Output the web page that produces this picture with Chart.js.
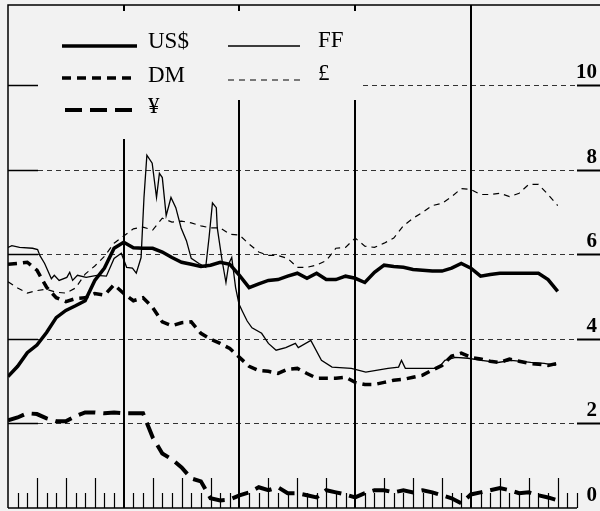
<!DOCTYPE html>
<html lang="en">
<head>
    <meta charset="UTF-8">
    <title>Exchange rates</title>
    <style>
        html, body { margin: 0; padding: 0; background-color: #f2f2f2; }
        canvas { display: block; }
    </style>
</head>
<body>
    <canvas id="rateChart" width="600" height="511"></canvas>
    <script src="https://cdn.jsdelivr.net/npm/chart.js@4.4.0/dist/chart.umd.min.js"></script>
    <script>
        // months from the left edge of the chart, one value per month
        const months = Array.from({ length: 58 }, (_, i) => i);
        const yTicks = [0, 2, 4, 6, 8, 10];
        const yearMonths = [12, 24, 36, 48];

        const usd = [3.11, 3.35, 3.67, 3.85, 4.15, 4.5, 4.67, 4.78, 4.9, 5.38, 5.67, 6.14, 6.28, 6.15, 6.14, 6.14, 6.05, 5.92, 5.81, 5.76,
            5.71, 5.74, 5.81, 5.76, 5.5, 5.21, 5.3, 5.38, 5.4, 5.48, 5.55, 5.43, 5.55, 5.4, 5.4, 5.48, 5.43, 5.33, 5.57, 5.74,
            5.71, 5.69, 5.64, 5.62, 5.6, 5.6, 5.67, 5.78, 5.67, 5.48, 5.52, 5.55, 5.55, 5.55, 5.55, 5.55, 5.4, 5.12];
        const dm = [5.76, 5.78, 5.81, 5.62, 5.22, 4.97, 4.88, 4.95, 4.97, 5.07, 5.03, 5.28, 5.07, 4.9, 4.97, 4.74, 4.4, 4.31, 4.38, 4.4,
            4.13, 3.99, 3.89, 3.77, 3.56, 3.35, 3.25, 3.23, 3.18, 3.28, 3.3, 3.18, 3.07, 3.07, 3.07, 3.09, 2.97, 2.92, 2.92, 2.97,
            3.02, 3.04, 3.09, 3.14, 3.26, 3.37, 3.59, 3.66, 3.56, 3.52, 3.47, 3.44, 3.52, 3.47, 3.42, 3.4, 3.37, 3.42];
        const gbp = [5.35, 5.2, 5.08, 5.14, 5.17, 5.1, 5.08, 5.2, 5.53, 5.72, 5.95, 6.26, 6.43, 6.6, 6.64, 6.57, 6.85, 6.76, 6.78, 6.74,
            6.67, 6.62, 6.62, 6.47, 6.45, 6.24, 6.05, 5.97, 5.97, 5.9, 5.69, 5.69, 5.74, 5.85, 6.14, 6.16, 6.38, 6.19, 6.16, 6.26,
            6.38, 6.67, 6.85, 6.99, 7.15, 7.2, 7.36, 7.55, 7.53, 7.41, 7.41, 7.44, 7.36, 7.44, 7.65, 7.65, 7.41, 7.15];
        const yen = [2.07, 2.14, 2.24, 2.22, 2.12, 2.05, 2.05, 2.17, 2.26, 2.26, 2.24, 2.26, 2.24, 2.24, 2.24, 1.67, 1.29, 1.15, 0.96, 0.7,
            0.63, 0.23, 0.18, 0.2, 0.3, 0.37, 0.49, 0.42, 0.49, 0.35, 0.35, 0.3, 0.25, 0.42, 0.37, 0.32, 0.25, 0.35, 0.42, 0.42,
            0.37, 0.42, 0.37, 0.42, 0.37, 0.3, 0.23, 0.11, 0.32, 0.37, 0.42, 0.47, 0.42, 0.35, 0.37, 0.3, 0.25, 0.18];

        // FF is spiky, so it keeps its own finer month positions
        const ffMonths = [0, 0.4, 1.2, 2.55, 3.07, 3.3, 3.8, 4.5, 4.8, 5.3, 6.1, 6.4, 6.7, 7.2, 8.1, 9.2, 10.2, 11.0, 11.75, 12.3,
            12.9, 13.3, 13.8, 14.1, 14.4, 14.95, 15.4, 15.7, 16.0, 16.4, 16.9, 17.4, 17.95, 18.5, 19.0, 19.8, 20.5, 20.85, 21.2, 21.6,
            21.7, 22.2, 22.6, 22.9, 23.2, 23.6, 23.95, 24.3, 24.8, 25.3, 26.3, 27.0, 27.8, 28.8, 29.8, 30.1, 31.4, 32.5, 33.6, 35.6,
            37.1, 39.4, 40.5, 40.8, 41.2, 42.9, 44.6, 45.3, 46.4, 47.7, 49.1, 50.8, 52.2, 54.2, 55.6, 56.8];
        const ff = [6.16, 6.2, 6.16, 6.14, 6.11, 5.97, 5.78, 5.42, 5.5, 5.38, 5.45, 5.57, 5.38, 5.5, 5.45, 5.5, 5.48, 5.9, 6.02, 5.69,
            5.67, 5.55, 5.92, 7.34, 8.34, 8.15, 7.34, 7.91, 7.81, 6.91, 7.34, 7.1, 6.62, 6.32, 5.9, 5.78, 5.69, 6.4, 7.21, 7.1,
            6.62, 5.85, 5.33, 5.78, 5.92, 5.21, 4.82, 4.65, 4.42, 4.26, 4.13, 3.89, 3.73, 3.79, 3.89, 3.79, 3.96, 3.49, 3.33, 3.3,
            3.21, 3.3, 3.33, 3.49, 3.3, 3.3, 3.3, 3.49, 3.56, 3.54, 3.49, 3.44, 3.49, 3.44, 3.42, 3.37];

        const pts = (xs, ys) => xs.map((m, i) => ({ x: m, y: ys[i] }));

        const series = [
            { label: 'US$', data: pts(months, usd), width: 3.5, dash: [] },
            { label: 'FF', data: pts(ffMonths, ff), width: 1.3, dash: [] },
            { label: 'DM', data: pts(months, dm), width: 3.5, dash: [9, 6] },
            { label: '£', data: pts(months, gbp), width: 1.2, dash: [6, 5] },
            { label: '¥', data: pts(months, yen), width: 4, dash: [17, 8] }
        ];

        // legend slots: [line x1, line x2, line y, text x, text baseline]
        const legendSlots = {
            'US$': [62, 137, 46, 148, 48],
            'FF': [228, 300, 46, 318, 47],
            'DM': [62, 137, 78, 148, 82],
            '£': [228, 300, 80, 318, 80],
            '¥': [65, 137, 110, 148, 113]
        };

        const framePlugin = {
            id: 'frame',
            beforeDraw(chart) {
                const ctx = chart.ctx;
                ctx.save();
                ctx.fillStyle = '#f2f2f2';
                ctx.fillRect(0, 0, chart.width, chart.height);
                ctx.restore();
            },
            beforeDatasetsDraw(chart) {
                const { ctx, chartArea: a, scales: { x, y } } = chart;
                ctx.save();
                ctx.strokeStyle = '#000';

                // frame: left, top and bottom
                ctx.lineWidth = 1.5;
                ctx.beginPath();
                ctx.moveTo(a.left, a.bottom);
                ctx.lineTo(a.left, a.top);
                ctx.lineTo(chart.width, a.top);
                ctx.moveTo(a.left, a.bottom);
                ctx.lineTo(a.right, a.bottom);
                ctx.stroke();

                // horizontal grid and right-hand labels
                ctx.font = 'bold 21px "Liberation Serif"';
                ctx.textAlign = 'right';
                ctx.fillStyle = '#000';
                yTicks.forEach(v => {
                    const py = Math.round(y.getPixelForValue(v)) + 0.5;
                    if (v > 0) {
                        ctx.lineWidth = 1.5;
                        ctx.setLineDash([]);
                        ctx.beginPath();
                        ctx.moveTo(a.left, py);
                        ctx.lineTo(a.left + 30, py);
                        ctx.stroke();
                        ctx.lineWidth = 2;
                        ctx.beginPath();
                        ctx.moveTo(a.right, py);
                        ctx.lineTo(chart.width, py);
                        ctx.stroke();
                        ctx.lineWidth = 1;
                        ctx.strokeStyle = '#333';
                        ctx.setLineDash([5, 4]);
                        ctx.beginPath();
                        ctx.moveTo(v === 10 ? 363 : a.left + 30, py);
                        ctx.lineTo(a.right, py);
                        ctx.stroke();
                        ctx.setLineDash([]);
                        ctx.strokeStyle = '#000';
                    }
                    ctx.fillText(String(v), 597, py - 8);
                });

                // month ticks along the bottom, taller each quarter
                ctx.lineWidth = 1.2;
                ctx.beginPath();
                for (let m = 1; m <= 59; m++) {
                    if (yearMonths.includes(m)) continue;
                    const px = Math.round(x.getPixelForValue(m)) + 0.5;
                    ctx.moveTo(px, a.bottom);
                    ctx.lineTo(px, a.bottom - (m % 3 === 0 ? 30 : 15));
                }
                ctx.stroke();

                // year separators, broken where the legend sits
                const lineTops = { 12: 139, 24: 100, 36: 100, 48: a.top };
                ctx.lineWidth = 2;
                ctx.beginPath();
                yearMonths.forEach(m => {
                    const px = Math.round(x.getPixelForValue(m));
                    ctx.moveTo(px, a.bottom);
                    ctx.lineTo(px, lineTops[m]);
                    ctx.moveTo(px, a.top);
                    ctx.lineTo(px, a.top + 6);
                });
                ctx.stroke();
                ctx.restore();
            },
            afterDraw(chart) {
                const ctx = chart.ctx;
                ctx.save();
                ctx.strokeStyle = '#000';
                ctx.fillStyle = '#000';
                ctx.font = '23px "Liberation Serif"';
                ctx.textAlign = 'left';
                chart.data.datasets.forEach(ds => {
                    const s = legendSlots[ds.label];
                    ctx.lineWidth = ds.borderWidth;
                    ctx.setLineDash(ds.borderDash || []);
                    ctx.beginPath();
                    ctx.moveTo(s[0], s[2]);
                    ctx.lineTo(s[1], s[2]);
                    ctx.stroke();
                    ctx.setLineDash([]);
                    ctx.fillText(ds.label, s[3], s[4]);
                });
                ctx.restore();
            }
        };

        const ctx = document.getElementById('rateChart').getContext('2d');
        const rateChart = new Chart(ctx, {
            type: 'line',
            data: {
                datasets: series.map(s => ({
                    label: s.label,
                    data: s.data,
                    borderColor: '#000',
                    borderWidth: s.width,
                    borderDash: s.dash,
                    pointRadius: 0,
                    tension: 0,
                    fill: false
                }))
            },
            options: {
                responsive: false,
                animation: false,
                layout: { padding: { left: 8, top: 5, right: 23, bottom: 3 } },
                scales: {
                    x: { type: 'linear', min: 0, max: 59, display: false },
                    y: { min: 0, max: 11.89, display: false }
                },
                plugins: {
                    legend: { display: false },
                    tooltip: { enabled: false }
                }
            },
            plugins: [framePlugin]
        });
    </script>
</body>
</html>
